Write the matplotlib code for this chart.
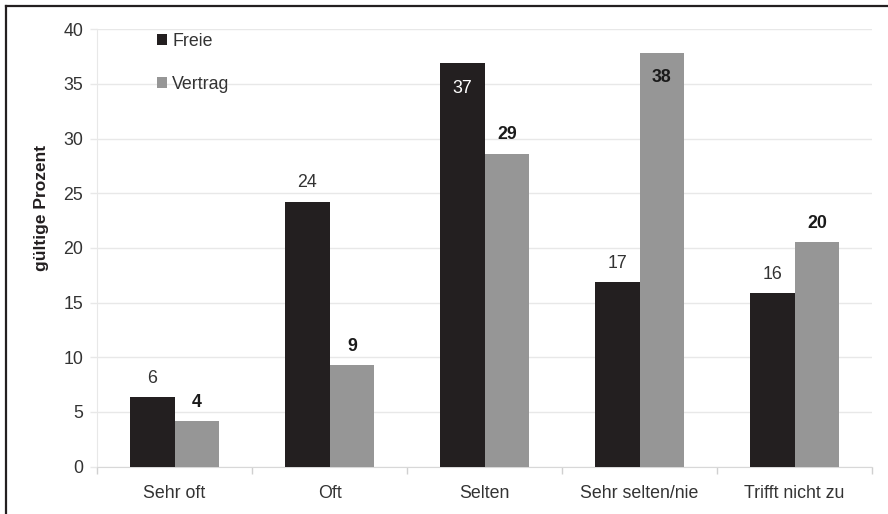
import matplotlib
matplotlib.use("Agg")
import matplotlib.pyplot as plt
from matplotlib.lines import Line2D
from matplotlib.patches import Patch, Rectangle
import numpy as np

plt.rcParams["font.family"] = ["Liberation Sans", "DejaVu Sans"]

categories = ["Sehr oft", "Oft", "Selten", "Sehr selten/nie", "Trifft nicht zu"]
freie = [6.35, 24.2, 36.9, 16.85, 15.85]
vertrag = [4.15, 9.25, 28.6, 37.8, 20.5]
series_names = ["Freie", "Vertrag"]
y_ticks = [0, 5, 10, 15, 20, 25, 30, 35, 40]

dark = "#231f20"
grey = "#969696"
grid_c = "#e8e8e8"
text_c = "#333333"
fs = 12.8

W, H = 888, 514
ax_l, ax_r, ax_b, ax_t = 97, 872, 466.5, 29.3

fig = plt.figure(figsize=(W / 100, H / 100), dpi=100)
ax = fig.add_axes([ax_l / W, 1 - ax_b / H, (ax_r - ax_l) / W, (ax_b - ax_t) / H])


def px_to_axes(px, py):
    return (px - ax_l) / (ax_r - ax_l), (ax_b - py) / (ax_b - ax_t)


x = np.arange(len(categories))
w = 0.29
b1 = ax.bar(x - w / 2, freie, width=w, color=dark, zorder=3)
b2 = ax.bar(x + w / 2, vertrag, width=w, color=grey, zorder=3)

ax.set_xlim(-0.5, len(categories) - 0.5)
ax.set_ylim(0, 40)
ax.set_yticks(y_ticks)
ax.set_yticklabels([str(t) for t in y_ticks], fontsize=fs, color=text_c)
ax.set_xticks(x)
ax.set_xticklabels(categories, fontsize=fs, color=text_c)
ax.set_xticks(np.arange(len(categories) + 1) - 0.5, minor=True)
ax.tick_params(axis="x", which="major", length=0, pad=13)
ax.tick_params(axis="x", which="minor", length=5, color="#d0d0d0", width=1)
ax.tick_params(axis="y", length=5, color=grid_c, width=1, pad=5)

ax.yaxis.grid(True, color=grid_c, linewidth=1, zorder=0)
for s in ["top", "right"]:
    ax.spines[s].set_visible(False)
ax.spines["left"].set_color(grid_c)
ax.spines["bottom"].set_color("#d8d8d8")

ax.set_ylabel("gültige Prozent", fontsize=12.5, fontweight="bold", color=dark)
ax.yaxis.set_label_coords(*px_to_axes(49, 208))

# value labels
for rect, v in zip(b1, freie):
    cx = rect.get_x() + rect.get_width() / 2
    inside = v > 36
    ax.annotate(f"{v:.0f}", (cx, v), xytext=(0, -25 if inside else 19),
                textcoords="offset pixels", ha="center", va="center",
                fontsize=fs, color="white" if inside else text_c, zorder=4)
for rect, v in zip(b2, vertrag):
    cx = rect.get_x() + rect.get_width() / 2
    inside = v > 36
    ax.annotate(f"{v:.0f}", (cx, v), xytext=(0, -24 if inside else 19),
                textcoords="offset pixels", ha="center", va="center",
                fontsize=fs, fontweight="bold", color="#1a1a1a", zorder=4)

# white panel behind the legend
x0, y0 = px_to_axes(138, 95)
x1, y1 = px_to_axes(243, 22)
ax.add_patch(Rectangle((x0, y0), x1 - x0, y1 - y0, transform=ax.transAxes,
                       facecolor="white", edgecolor="none", zorder=1, clip_on=False))

handles = [Patch(facecolor=dark, edgecolor="none"), Patch(facecolor=grey, edgecolor="none")]
leg = ax.legend(handles, series_names, loc="upper left",
                bbox_to_anchor=px_to_axes(157, 33),
                frameon=False, fontsize=fs,
                handlelength=0.55, handleheight=0.55, handletextpad=0.3,
                labelspacing=1.45, borderpad=0, borderaxespad=0)
for t in leg.get_texts():
    t.set_color(text_c)
leg.set_zorder(5)

# outer frame (left and top)
fig.add_artist(Line2D([6 / W, 6 / W], [0, 1 - 6 / H], color=dark, linewidth=1.6))
fig.add_artist(Line2D([6 / W, 1], [1 - 6 / H, 1 - 6 / H], color=dark, linewidth=1.6))

fig.savefig("out.png", dpi=100)
